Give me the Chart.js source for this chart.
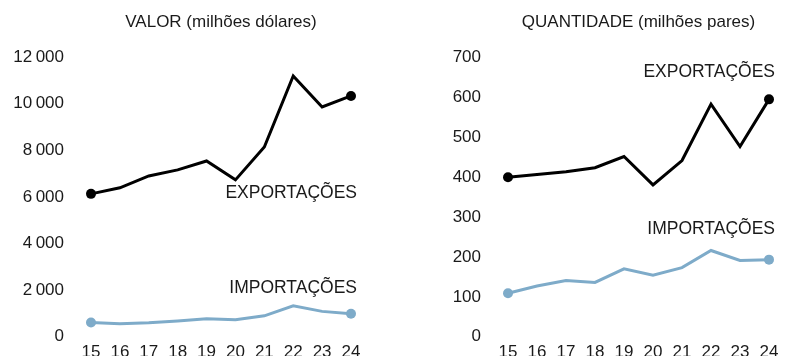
<!DOCTYPE html>
<html>
<head>
<meta charset="utf-8">
<script src="https://cdn.jsdelivr.net/npm/chart.js@4.4.1/dist/chart.umd.min.js"></script>
<style>
  html, body { margin: 0; padding: 0; background: #fff; overflow: hidden; width: 787px; height: 356px; }
  .row { display: flex; }
  canvas { display: block; }
</style>
</head>
<body>
<div class="row">
  <canvas id="valor" width="393" height="374"></canvas>
  <canvas id="quant" width="394" height="374"></canvas>
</div>
<script>
// Data
const years = ['15', '16', '17', '18', '19', '20', '21', '22', '23', '24'];

const valorExport = [6130, 6390, 6900, 7160, 7540, 6730, 8140, 11190, 9860, 10330];
const valorImport = [610, 560, 600, 680, 770, 730, 900, 1330, 1090, 990];

const quantExport = [399, 406, 413, 423, 451, 380, 441, 582, 476, 594];
const quantImport = [109, 127, 141, 136, 170, 154, 173, 216, 191, 193];

const FONT = '"Liberation Sans", Arial, sans-serif';
const TEXT = '#1a1a1a';
const BLUE = '#7eabc9';

// dots only on first and last point
function endDots(arr) {
    return arr.map((v, i) => (i === 0 || i === arr.length - 1) ? 5 : 0);
}

function thousands(v) {
    return String(v).replace(/\B(?=(\d{3})+(?!\d))/g, '\u2009');
}

// draws the panel title over the plot area and the series labels
const labelsPlugin = {
    id: 'panelLabels',
    afterDraw(chart, args, opts) {
        const ctx = chart.ctx;
        const area = chart.chartArea;
        const x = chart.scales.x;
        const y = chart.scales.y;
        ctx.save();
        ctx.fillStyle = TEXT;
        ctx.textBaseline = 'middle';
        ctx.textAlign = 'center';
        ctx.font = '17px ' + FONT;
        ctx.fillText(opts.title, (area.left + area.right) / 2, 22);
        ctx.textAlign = 'right';
        ctx.font = '17.5px ' + FONT;
        opts.notes.forEach(n => {
            ctx.fillText(n.text, x.getPixelForValue(years.length - 1) + 6, y.getPixelForValue(n.at));
        });
        ctx.restore();
    }
};

function makeChart(id, title, yMax, step, exp, imp, notes, leftWidth, rightPad) {
    const ctx = document.getElementById(id).getContext('2d');
    return new Chart(ctx, {
        type: 'line',
        data: {
            labels: years,
            datasets: [{
                label: 'EXPORTAÇÕES',
                data: exp,
                borderColor: '#000',
                backgroundColor: '#000',
                borderWidth: 3,
                pointRadius: endDots(exp),
                pointBorderWidth: 0,
                tension: 0
            }, {
                label: 'IMPORTAÇÕES',
                data: imp,
                borderColor: BLUE,
                backgroundColor: BLUE,
                borderWidth: 3,
                pointRadius: endDots(imp),
                pointBorderWidth: 0,
                tension: 0
            }]
        },
        options: {
            responsive: false,
            animation: false,
            layout: { padding: { top: 57, right: rightPad, bottom: 0, left: 0 } },
            plugins: {
                legend: { display: false },
                tooltip: { enabled: false },
                panelLabels: { title: title, notes: notes }
            },
            scales: {
                x: {
                    offset: false,
                    grid: { display: false, drawTicks: false },
                    border: { display: false },
                    ticks: { color: TEXT, font: { family: FONT, size: 17 }, padding: 5, maxRotation: 0, autoSkip: false },
                    afterFit(scale) { scale.height = 30; }
                },
                y: {
                    min: 0,
                    max: yMax,
                    grid: { display: false, drawTicks: false },
                    border: { display: false },
                    ticks: {
                        stepSize: step,
                        color: TEXT,
                        font: { family: FONT, size: 17 },
                        padding: 27,
                        callback: v => thousands(v)
                    },
                    afterFit(scale) { scale.width = leftWidth; }
                }
            }
        },
        plugins: [labelsPlugin]
    });
}

makeChart('valor', 'VALOR (milhões dólares)', 12000, 2000, valorExport, valorImport,
    [{ text: 'EXPORTAÇÕES', at: 6150 }, { text: 'IMPORTAÇÕES', at: 2100 }], 91, 42);

makeChart('quant', 'QUANTIDADE (milhões pares)', 700, 100, quantExport, quantImport,
    [{ text: 'EXPORTAÇÕES', at: 662 }, { text: 'IMPORTAÇÕES', at: 270 }], 115, 18);
</script>
</body>
</html>
